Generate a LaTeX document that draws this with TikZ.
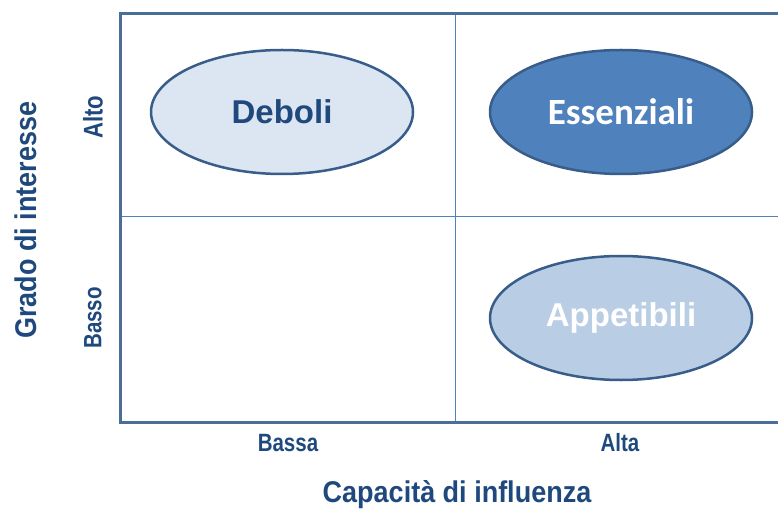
\documentclass[tikz,border=0pt]{standalone}
\usepackage{fontspec}
\setmainfont{Liberation Sans}
\newfontfamily\narrowfont[FakeStretch=0.82]{Liberation Sans}
\newfontfamily\axisfont[FakeStretch=0.9]{Liberation Sans}
\newfontfamily\calfont{Carlito}
\usetikzlibrary{shapes.geometric,positioning}
\definecolor{frameblue}{HTML}{4A6D9A}
\definecolor{gridblue}{HTML}{4F81BD}
\definecolor{edgeblue}{HTML}{385D8A}
\definecolor{textblue}{HTML}{1F497D}
\definecolor{paleblue}{HTML}{DCE6F2}
\definecolor{lightblue}{HTML}{B9CDE5}
\tikzstyle{frame}=[line width=3pt,draw=frameblue]
\tikzstyle{grid}=[line width=1pt,draw=gridblue]
\tikzstyle{group}=[ellipse,draw=edgeblue,line width=2.5pt,minimum width=262pt,minimum height=124pt,inner sep=0pt,font=\fontsize{33}{36}\selectfont\bfseries]
\tikzstyle{axis}=[text=textblue,font=\axisfont\fontsize{30}{34}\selectfont\bfseries]
\tikzstyle{level}=[text=textblue,font=\narrowfont\fontsize{25}{28}\selectfont\bfseries]

\begin{document}
\begin{tikzpicture}[x=1pt,y=-1pt]
    \useasboundingbox (0,0) rectangle (778,510);
    
    \coordinate (tr) at (778,14);
    \coordinate (tl) at (120,14);
    \coordinate (bl) at (120,422);
    \coordinate (br) at (778,422);
    \coordinate (mt) at (455,14);
    \coordinate (mb) at (455,422);
    \coordinate (ml) at (120,217);
    \coordinate (mr) at (778,217);
    
    \draw[grid] (mt) -- (mb);
    \draw[grid] (ml) -- (mr);
    \draw[frame] (tr) -- (tl) -- (bl) -- (br);
    
    \node[group,fill=paleblue,text=textblue] (deboli) at (282,112) {Deboli};
    \node[group,fill=gridblue,text=white,font=\calfont\fontsize{37}{40}\selectfont\bfseries] (essenziali) at (621,112) {Essenziali};
    \node[group,fill=lightblue,text=white] (appetibili) at (621,318) {Appetibili};
    
    \node[level,rotate=90,font=\narrowfont\fontsize{27}{30}\selectfont\bfseries] (alto) at (93,117) {Alto};
    \node[level,rotate=90] (basso) at (93,318) {Basso};
    \node[level] (bassa) at (288,443) {Bassa};
    \node[level] (alta) at (620,443) {Alta};
    
    \node[axis,rotate=90] (interesse) at (26,220) {Grado di interesse};
    \node[axis] (influenza) at (457,495) {Capacità di influenza};
    
\end{tikzpicture}
\end{document}
